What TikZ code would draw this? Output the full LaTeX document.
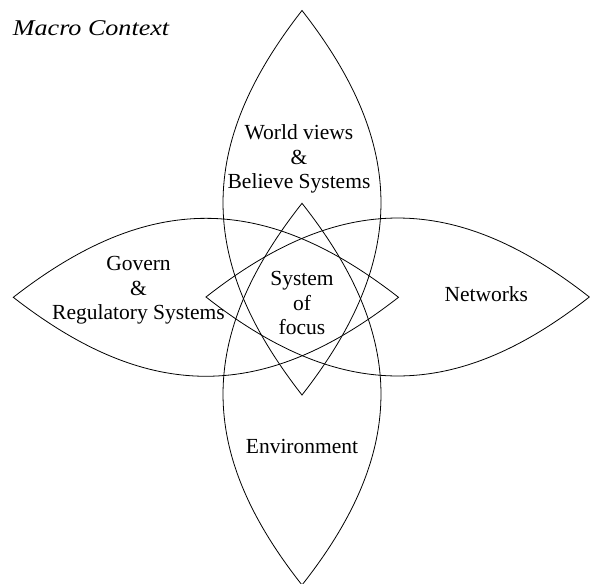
\documentclass[tikz,border=0pt]{standalone}
\usepackage{fontspec}
\setmainfont{Liberation Serif}
\begin{document}
\begin{tikzpicture}[x=1pt,y=-1pt,
  lens/.style={draw=black, line width=0.8pt},
  lbl/.style={align=center, inner sep=0pt, font=\fontsize{21.5}{24.5}\selectfont},
  ttl/.style={inner sep=0pt, font=\fontsize{22.5}{26}\selectfont\itshape}]
\useasboundingbox (0,0) rectangle (590,584);
% top lens
\draw[lens] (302,10.5) .. controls (196.7,145.25) and (196.7,260.25) .. (302,395)
            .. controls (407.3,260.25) and (407.3,145.25) .. (302,10.5) -- cycle;
% bottom lens
\draw[lens] (302,203.3) .. controls (196.7,336.65) and (196.7,451.65) .. (302,585)
            .. controls (407.3,451.65) and (407.3,336.65) .. (302,203.3) -- cycle;
% left lens
\draw[lens] (13.3,297.3) .. controls (148.4,192) and (263.4,192) .. (398.5,297.3)
            .. controls (263.4,402.6) and (148.4,402.6) .. (13.3,297.3) -- cycle;
% right lens
\draw[lens] (206,297) .. controls (340.15,191.7) and (455.15,191.7) .. (589.3,297)
            .. controls (455.15,402.3) and (340.15,402.3) .. (206,297) -- cycle;
% labels
\node[ttl, anchor=base west] (macro) at (12.7,35) {\scalebox{1.16}[1]{Macro Context}};
\node[lbl] (world) at (299,159) {World views\\\&\\Believe Systems};
\node[lbl] (govern) at (138.5,290.5) {Govern\\\&\\Regulatory Systems};
\node[lbl] (focus) at (302,303) {System\\of\\focus};
\node[lbl, anchor=base] (net) at (486.3,301.7) {Networks};
\node[lbl, anchor=base] (env) at (302,453.3) {Environment};
\end{tikzpicture}
\end{document}
